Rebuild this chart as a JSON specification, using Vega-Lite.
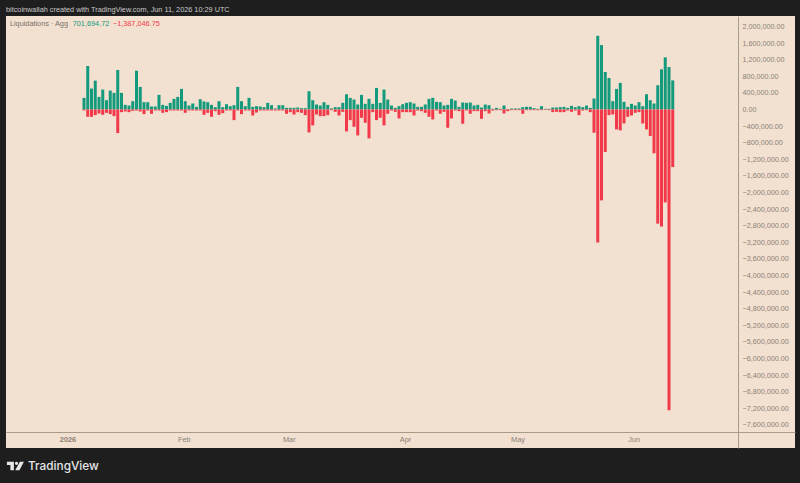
{
  "$schema": "https://vega.github.io/schema/vega-lite/v6.json",
  "width": 789,
  "height": 432,
  "autosize": "none",
  "padding": {"left": 6, "top": 16, "right": 5, "bottom": 35},
  "background": "#1e1e1e",
  "view": {"fill": "#f2e1d0", "stroke": null},
  "config": {"font": "Liberation Sans"},
  "title": {
    "text": "bitcoinwallah created with TradingView.com, Jun 11, 2026 10:29 UTC",
    "anchor": "start",
    "frame": "group",
    "offset": 3,
    "fontSize": 7.3,
    "fontWeight": "normal",
    "color": "#c9c9c9"
  },
  "datasets": {
    "days": [
      {"date":"2026-01-05","long":280000,"short":-24000},
      {"date":"2026-01-06","long":1048000,"short":-176000},
      {"date":"2026-01-07","long":504000,"short":-176000},
      {"date":"2026-01-08","long":696000,"short":-136000},
      {"date":"2026-01-09","long":304000,"short":-96000},
      {"date":"2026-01-10","long":480000,"short":-128000},
      {"date":"2026-01-11","long":224000,"short":-80000},
      {"date":"2026-01-12","long":456000,"short":-112000},
      {"date":"2026-01-13","long":400000,"short":-160000},
      {"date":"2026-01-14","long":952000,"short":-568000},
      {"date":"2026-01-15","long":400000,"short":-64000},
      {"date":"2026-01-16","long":112000,"short":-48000},
      {"date":"2026-01-17","long":96000,"short":-64000},
      {"date":"2026-01-18","long":200000,"short":-32000},
      {"date":"2026-01-19","long":936000,"short":-24000},
      {"date":"2026-01-20","long":544000,"short":-48000},
      {"date":"2026-01-21","long":176000,"short":-112000},
      {"date":"2026-01-22","long":176000,"short":-24000},
      {"date":"2026-01-23","long":72000,"short":-104000},
      {"date":"2026-01-24","long":72000,"short":-24000},
      {"date":"2026-01-25","long":352000,"short":-24000},
      {"date":"2026-01-26","long":112000,"short":-80000},
      {"date":"2026-01-27","long":88000,"short":-64000},
      {"date":"2026-01-28","long":160000,"short":-24000},
      {"date":"2026-01-29","long":256000,"short":-24000},
      {"date":"2026-01-30","long":304000,"short":-24000},
      {"date":"2026-01-31","long":496000,"short":-24000},
      {"date":"2026-02-01","long":200000,"short":-80000},
      {"date":"2026-02-02","long":96000,"short":-24000},
      {"date":"2026-02-03","long":144000,"short":-24000},
      {"date":"2026-02-04","long":64000,"short":-24000},
      {"date":"2026-02-05","long":248000,"short":-24000},
      {"date":"2026-02-06","long":192000,"short":-128000},
      {"date":"2026-02-07","long":176000,"short":-80000},
      {"date":"2026-02-08","long":112000,"short":-176000},
      {"date":"2026-02-09","long":56000,"short":-40000},
      {"date":"2026-02-10","long":200000,"short":-128000},
      {"date":"2026-02-11","long":56000,"short":-88000},
      {"date":"2026-02-12","long":128000,"short":-24000},
      {"date":"2026-02-13","long":80000,"short":-24000},
      {"date":"2026-02-14","long":104000,"short":-256000},
      {"date":"2026-02-15","long":544000,"short":-24000},
      {"date":"2026-02-16","long":200000,"short":-112000},
      {"date":"2026-02-17","long":80000,"short":-24000},
      {"date":"2026-02-18","long":280000,"short":-24000},
      {"date":"2026-02-19","long":64000,"short":-144000},
      {"date":"2026-02-20","long":80000,"short":-72000},
      {"date":"2026-02-21","long":72000,"short":-24000},
      {"date":"2026-02-22","long":56000,"short":-24000},
      {"date":"2026-02-23","long":160000,"short":-24000},
      {"date":"2026-02-24","long":104000,"short":-24000},
      {"date":"2026-02-25","long":24000,"short":-24000},
      {"date":"2026-02-26","long":104000,"short":-24000},
      {"date":"2026-02-27","long":104000,"short":-24000},
      {"date":"2026-02-28","long":40000,"short":-104000},
      {"date":"2026-03-01","long":40000,"short":-64000},
      {"date":"2026-03-02","long":40000,"short":-120000},
      {"date":"2026-03-03","long":48000,"short":-64000},
      {"date":"2026-03-04","long":32000,"short":-80000},
      {"date":"2026-03-05","long":32000,"short":-136000},
      {"date":"2026-03-06","long":440000,"short":-552000},
      {"date":"2026-03-07","long":224000,"short":-384000},
      {"date":"2026-03-08","long":120000,"short":-120000},
      {"date":"2026-03-09","long":96000,"short":-160000},
      {"date":"2026-03-10","long":176000,"short":-160000},
      {"date":"2026-03-11","long":112000,"short":-136000},
      {"date":"2026-03-12","long":24000,"short":-16000},
      {"date":"2026-03-13","long":56000,"short":-56000},
      {"date":"2026-03-14","long":56000,"short":-144000},
      {"date":"2026-03-15","long":160000,"short":-56000},
      {"date":"2026-03-16","long":368000,"short":-528000},
      {"date":"2026-03-17","long":280000,"short":-256000},
      {"date":"2026-03-18","long":240000,"short":-416000},
      {"date":"2026-03-19","long":120000,"short":-624000},
      {"date":"2026-03-20","long":352000,"short":-200000},
      {"date":"2026-03-21","long":136000,"short":-320000},
      {"date":"2026-03-22","long":256000,"short":-696000},
      {"date":"2026-03-23","long":136000,"short":-64000},
      {"date":"2026-03-24","long":520000,"short":-256000},
      {"date":"2026-03-25","long":160000,"short":-200000},
      {"date":"2026-03-26","long":480000,"short":-384000},
      {"date":"2026-03-27","long":240000,"short":-104000},
      {"date":"2026-03-28","long":96000,"short":-24000},
      {"date":"2026-03-29","long":40000,"short":-56000},
      {"date":"2026-03-30","long":80000,"short":-216000},
      {"date":"2026-03-31","long":128000,"short":-64000},
      {"date":"2026-04-01","long":160000,"short":-64000},
      {"date":"2026-04-02","long":176000,"short":-64000},
      {"date":"2026-04-03","long":144000,"short":-144000},
      {"date":"2026-04-04","long":64000,"short":-24000},
      {"date":"2026-04-05","long":64000,"short":-40000},
      {"date":"2026-04-06","long":120000,"short":-80000},
      {"date":"2026-04-07","long":256000,"short":-176000},
      {"date":"2026-04-08","long":280000,"short":-240000},
      {"date":"2026-04-09","long":184000,"short":-24000},
      {"date":"2026-04-10","long":176000,"short":-104000},
      {"date":"2026-04-11","long":96000,"short":-56000},
      {"date":"2026-04-12","long":112000,"short":-440000},
      {"date":"2026-04-13","long":256000,"short":-216000},
      {"date":"2026-04-14","long":216000,"short":-24000},
      {"date":"2026-04-15","long":64000,"short":-40000},
      {"date":"2026-04-16","long":168000,"short":-344000},
      {"date":"2026-04-17","long":160000,"short":-24000},
      {"date":"2026-04-18","long":168000,"short":-104000},
      {"date":"2026-04-19","long":96000,"short":-40000},
      {"date":"2026-04-20","long":112000,"short":-40000},
      {"date":"2026-04-21","long":48000,"short":-224000},
      {"date":"2026-04-22","long":120000,"short":-40000},
      {"date":"2026-04-23","long":104000,"short":-96000},
      {"date":"2026-04-24","long":16000,"short":-24000},
      {"date":"2026-04-25","long":40000,"short":-16000},
      {"date":"2026-04-26","long":16000,"short":-16000},
      {"date":"2026-04-27","long":96000,"short":-96000},
      {"date":"2026-04-28","long":8000,"short":-40000},
      {"date":"2026-04-29","long":24000,"short":-16000},
      {"date":"2026-04-30","long":24000,"short":-16000},
      {"date":"2026-05-01","long":24000,"short":-16000},
      {"date":"2026-05-02","long":56000,"short":-104000},
      {"date":"2026-05-03","long":64000,"short":-16000},
      {"date":"2026-05-04","long":64000,"short":-16000},
      {"date":"2026-05-05","long":32000,"short":-16000},
      {"date":"2026-05-06","long":16000,"short":-16000},
      {"date":"2026-05-07","long":80000,"short":-16000},
      {"date":"2026-05-08","long":16000,"short":-8000},
      {"date":"2026-05-09","long":16000,"short":-16000},
      {"date":"2026-05-10","long":48000,"short":-64000},
      {"date":"2026-05-11","long":48000,"short":-56000},
      {"date":"2026-05-12","long":56000,"short":-64000},
      {"date":"2026-05-13","long":64000,"short":-64000},
      {"date":"2026-05-14","long":40000,"short":-24000},
      {"date":"2026-05-15","long":88000,"short":-56000},
      {"date":"2026-05-16","long":56000,"short":-24000},
      {"date":"2026-05-17","long":80000,"short":-136000},
      {"date":"2026-05-18","long":56000,"short":-24000},
      {"date":"2026-05-19","long":96000,"short":-16000},
      {"date":"2026-05-20","long":40000,"short":-64000},
      {"date":"2026-05-21","long":264000,"short":-560000},
      {"date":"2026-05-22","long":1776000,"short":-3205000},
      {"date":"2026-05-23","long":1552000,"short":-2190000},
      {"date":"2026-05-24","long":904000,"short":-1024000},
      {"date":"2026-05-25","long":760000,"short":-136000},
      {"date":"2026-05-26","long":200000,"short":-120000},
      {"date":"2026-05-27","long":496000,"short":-480000},
      {"date":"2026-05-28","long":640000,"short":-504000},
      {"date":"2026-05-29","long":184000,"short":-336000},
      {"date":"2026-05-30","long":64000,"short":-176000},
      {"date":"2026-05-31","long":136000,"short":-144000},
      {"date":"2026-06-01","long":96000,"short":-80000},
      {"date":"2026-06-02","long":176000,"short":-64000},
      {"date":"2026-06-03","long":80000,"short":-336000},
      {"date":"2026-06-04","long":368000,"short":-480000},
      {"date":"2026-06-05","long":224000,"short":-640000},
      {"date":"2026-06-06","long":144000,"short":-1056000},
      {"date":"2026-06-07","long":584000,"short":-2750000},
      {"date":"2026-06-08","long":968000,"short":-2820000},
      {"date":"2026-06-09","long":1256000,"short":-2240000},
      {"date":"2026-06-10","long":1024000,"short":-7250000},
      {"date":"2026-06-11","long":701694.72,"short":-1387046.75}
    ],
    "notes": [
      {"date":"2025-12-16T06:00:00Z","value":2060000,"text":"Liquidations · Agg","side":"name"},
      {"date":"2026-01-02T00:00:00Z","value":2060000,"text":"701,694.72","side":"long"},
      {"date":"2026-01-12T17:00:00Z","value":2060000,"text":"−1,387,046.75","side":"short"}
    ],
    "brand": [
      {"date":"2025-12-21T02:00:00Z","value":-8590000,"text":"TradingView"}
    ],
    "logo": [
      {"date":"2025-12-17T17:00:00Z","value":-8590000}
    ]
  },
  "encoding": {
    "x": {
      "field": "date",
      "type": "temporal",
      "title": null,
      "scale": {
        "type": "utc",
        "nice": false,
        "padding": 0,
        "domain": [
          {"year": 2025, "month": 12, "date": 15, "hours": 4, "minutes": 48, "utc": true},
          {"year": 2026, "month": 7, "date": 13, "hours": 14, "minutes": 24, "utc": true}
        ]
      },
      "axis": {
        "offset": -16,
        "grid": false,
        "ticks": false,
        "domainColor": "#a89b8a",
        "domainWidth": 1,
        "labelColor": "#8a8076",
        "labelFontSize": 7.4,
        "labelPadding": 3,
        "labelOffset": -1.5,
        "labelOverlap": false,
        "values": [
          {"year": 2026, "month": 1, "date": 1, "utc": true},
          {"year": 2026, "month": 2, "date": 1, "utc": true},
          {"year": 2026, "month": 3, "date": 1, "utc": true},
          {"year": 2026, "month": 4, "date": 1, "utc": true},
          {"year": 2026, "month": 5, "date": 1, "utc": true},
          {"year": 2026, "month": 6, "date": 1, "utc": true}
        ],
        "labelExpr": "utcmonth(datum.value) == 0 ? '2026' : utcFormat(datum.value, '%b')",
        "labelFontWeight": {"condition": {"test": "utcmonth(datum.value) == 0", "value": "bold"}, "value": "normal"}
      }
    },
    "y": {
      "field": "value",
      "type": "quantitative",
      "title": null,
      "stack": null,
      "scale": {"domain": [-8157000, 2253000], "nice": false, "zero": false, "padding": 0},
      "axis": {
        "orient": "right",
        "offset": -57,
        "grid": false,
        "ticks": false,
        "domainColor": "#a89b8a",
        "domainWidth": 1,
        "labelColor": "#8a8076",
        "labelFontSize": 7.2,
        "labelPadding": 4,
        "labelOverlap": false,
        "format": ",.2f",
        "values": [2000000, 1600000, 1200000, 800000, 400000, 0, -400000, -800000, -1200000, -1600000, -2000000, -2400000, -2800000, -3200000, -3600000, -4000000, -4400000, -4800000, -5200000, -5600000, -6000000, -6400000, -6800000, -7200000, -7600000]
      }
    }
  },
  "layer": [
    {
      "data": {"name": "days"},
      "transform": [{"fold": ["long", "short"], "as": ["side", "value"]}],
      "mark": {"type": "bar", "width": 3},
      "encoding": {
        "color": {
          "field": "side",
          "type": "nominal",
          "legend": null,
          "scale": {"domain": ["name", "long", "short"], "range": ["#77706a", "#139a7c", "#f2394a"]}
        }
      }
    },
    {
      "data": {"name": "notes"},
      "mark": {"type": "text", "align": "left", "baseline": "middle", "fontSize": 7.3},
      "encoding": {
        "text": {"field": "text"},
        "color": {"field": "side", "type": "nominal", "legend": null}
      }
    },
    {
      "data": {"name": "brand"},
      "mark": {"type": "text", "align": "left", "baseline": "middle", "font": "Inter", "fontSize": 11.8, "fontWeight": 500, "color": "#e6e6e6"},
      "encoding": {
        "text": {"field": "text"}
      }
    },
    {
      "data": {"name": "logo"},
      "mark": {
        "type": "point",
        "filled": true,
        "opacity": 1,
        "size": 289,
        "color": "#e6e6e6",
        "shape": "M-1 -0.5L-0.176 -0.5L-0.176 0.5L-0.588 0.5L-0.588 -0.124L-1 -0.124Z M-0.059 -0.31A0.188 0.188 0 1 0 0.317 -0.31A0.188 0.188 0 1 0 -0.059 -0.31Z M0.53 -0.5L1 -0.5L0.47 0.5L-0.02 0.5Z"
      }
    }
  ]
}
